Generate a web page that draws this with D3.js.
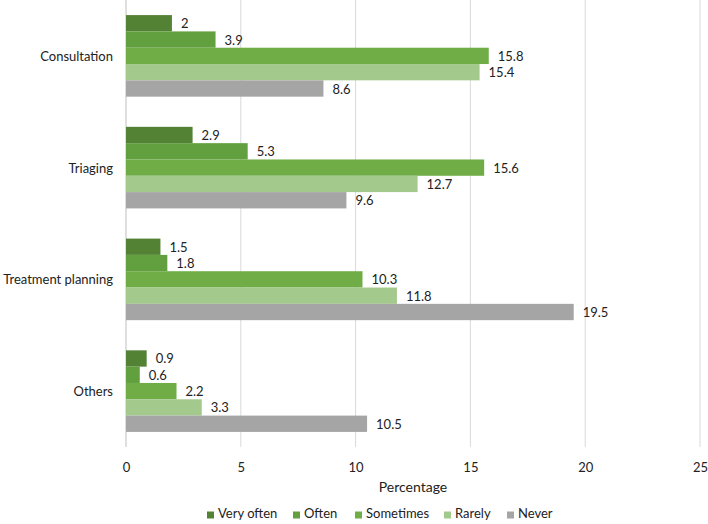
<!DOCTYPE html>
<html><head><meta charset="utf-8">
<script src="https://cdn.jsdelivr.net/npm/d3@7"></script>
<style>body{margin:0;background:#fff}svg{display:block;font-family:Lato,"Open Sans",sans-serif}</style>
</head><body><svg id="c" width="708" height="524"></svg>
<script>
const categories = ["Consultation","Triaging","Treatment planning","Others"];
const seriesNames = ["Very often","Often","Sometimes","Rarely","Never"];
const veryOften = [2, 2.9, 1.5, 0.9];
const often = [3.9, 5.3, 1.8, 0.6];
const sometimes = [15.8, 15.6, 10.3, 2.2];
const rarely = [15.4, 12.7, 11.8, 3.3];
const never = [8.6, 9.6, 19.5, 10.5];
const xTicks = [0,5,10,15,20,25];
const colors = ["#548235","#62a03f","#70ad47","#a4c98c","#a5a5a5"];
const seriesValues = [veryOften, often, sometimes, rarely, never];

const svg = d3.select("#c");
const x = d3.scaleLinear().domain([0,25]).range([126,700]);
const y = d3.scaleBand().domain(categories).range([0,447]).paddingInner(0.27).paddingOuter(0.135);
const y1 = d3.scaleBand().domain(seriesNames).range([0,y.bandwidth()]);

// gridlines
svg.append("g").selectAll("line").data(xTicks.slice(1)).join("line")
  .attr("x1",d=>x(d)).attr("x2",d=>x(d)).attr("y1",0).attr("y2",447)
  .attr("stroke","#d9d9d9").attr("stroke-width",1);
svg.append("line").attr("x1",x(0)).attr("x2",x(0)).attr("y1",0).attr("y2",447)
  .attr("stroke","#bfbfbf").attr("stroke-width",1);

// tick labels
const xa = svg.append("g").attr("transform","translate(0,463)")
  .call(d3.axisBottom(x).tickValues(xTicks).tickSize(0).tickPadding(0));
xa.select(".domain").remove();
xa.selectAll("text").attr("font-size",13).attr("fill","#222").attr("font-family","Lato,'Open Sans',sans-serif");

// category labels
svg.append("g").selectAll("text").data(categories).join("text")
  .attr("x",113).attr("y",d=>y(d)+y.bandwidth()/2).attr("text-anchor","end")
  .attr("dominant-baseline","central").attr("font-size",13).attr("fill","#222").text(d=>d);

// bars
const g = svg.append("g");
categories.forEach((c,ci)=>{
  seriesNames.forEach((s,si)=>{
    const v = seriesValues[si][ci];
    const yy = y(c)+y1(s);
    g.append("rect").attr("x",x(0)).attr("y",yy).attr("width",x(v)-x(0)).attr("height",y1.bandwidth())
      .attr("fill",colors[si]);
    g.append("text").attr("x",x(v)+9).attr("y",yy+y1.bandwidth()/2).attr("dominant-baseline","central")
      .attr("font-size",13).attr("fill","#222").text(v);
  });
});

// axis title
svg.append("text").attr("x",413).attr("y",492).attr("text-anchor","middle")
  .attr("font-size",14).attr("fill","#222").text("Percentage");

// legend
const legX = [207,293,355,444,507];
const leg = svg.append("g");
seriesNames.forEach((s,i)=>{
  leg.append("rect").attr("x",legX[i]).attr("y",511.5).attr("width",7).attr("height",7).attr("fill",colors[i]);
  leg.append("text").attr("x",legX[i]+11).attr("y",518)
    .attr("font-size",13).attr("fill","#222").text(s);
});
</script></body></html>
